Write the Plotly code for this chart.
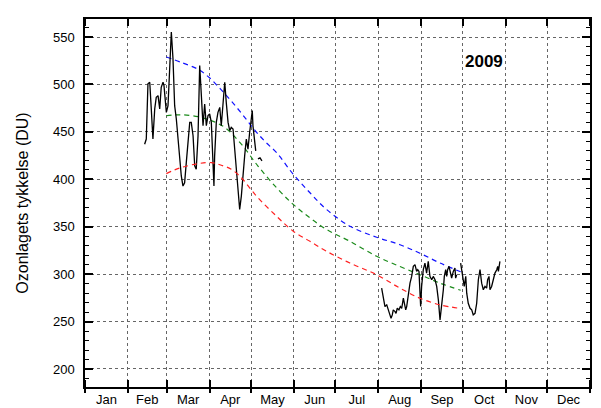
import plotly.graph_objects as go
import pandas as pd

# ---- data (day-of-year, value in DU) ----
seg1_days = [43.1, 44.3, 45.5, 46.8, 47.9, 49.1, 50.4, 51.5, 52.8, 54.0, 55.1, 56.4, 57.1, 58.0, 58.8,
             60.0, 61.2, 62.4, 63.6, 64.8, 66.0, 67.2, 68.4, 69.6, 70.8, 72.0, 73.2, 74.4, 75.7, 76.8,
             78.1, 79.3, 80.4, 81.7, 82.9, 84.1, 85.3, 86.5, 87.7, 88.9, 90.1, 91.3, 92.5, 93.2, 93.7,
             94.9, 96.1, 97.4, 98.5, 99.7, 101.0, 102.1, 103.4, 104.6, 105.7, 107.0, 108.2, 109.4, 110.6,
             111.8, 113.0, 114.2, 115.4, 116.6, 117.8, 119.0, 120.2, 120.9, 121.4, 122.7, 123.4]
seg1_vals = [437, 442.4, 500.6, 502.3, 474.2, 442.4, 474.2, 486.4, 488.2, 474.2, 497, 502.3, 498.8, 481.1, 470.6,
             477.6, 523.5, 555.3, 527.1, 477.6, 463.6, 442.4, 421.2, 403.5, 392.9, 396.4, 417.6, 438.8, 460, 460,
             445.9, 414.1, 410.6, 445.9, 520, 488.2, 456.5, 479.4, 456.5, 467.1, 468.9, 460, 410.6, 392.9, 424.7,
             460, 470.6, 475.8, 456.5, 477.6, 502.3, 481.1, 460, 451.2, 454.7, 453, 431.8, 410.6, 389.4,
             368.2, 382.3, 407, 424.7, 442.4, 431.8, 449.4, 461.8, 472.4, 456.5, 442.4, 430]
seg2_days = [125.0, 126.5, 127.9]
seg2_vals = [421.5, 422.6, 419.4]
seg3_days = [214.4, 215.6, 216.8, 218.1, 219.2, 220.4, 221.2, 222.1, 222.8, 224.1, 224.8, 225.7, 226.9, 227.9,
             228.9, 230.1, 230.8, 231.8, 232.5, 233.7, 234.9, 236.1, 237.3, 238.5, 239.7, 240.5, 241.4, 242.6,
             243.3, 244.5, 245.7, 246.9, 248.1, 249.3, 250.6, 251.7, 253.0, 254.2, 255.4, 256.6, 257.8, 259.0,
             259.7, 260.7, 261.4, 262.1, 263.1, 263.8, 265.0, 266.2, 267.4, 267.9, 268.6]
seg3_vals = [285.2, 276.4, 265.8, 267.6, 262.3, 258.7, 253.4, 257, 262.3, 260.5, 258.7, 264, 262.3, 265.8,
             264, 274.6, 269.3, 262.3, 265.8, 279.9, 290.5, 297.6, 308.2, 310, 302.9, 304.7, 302.9, 265.8,
             287, 304.7, 311.7, 301.1, 313.5, 297.6, 294.1, 297.6, 294.1, 287, 272.9, 251.7, 265.8, 283.5,
             297.6, 304.7, 297.6, 304.7, 308.2, 302.9, 295.8, 302.9, 306.4, 295.8, 299.4]
seg4_days = [271.5, 272.3, 273.4, 274.1, 275.2, 275.9, 277.0, 278.3, 279.5, 280.6, 281.9, 283.1, 284.3, 285.5,
             286.7, 287.9, 289.1, 290.3, 291.0, 292.0, 292.7, 293.9, 295.1, 296.3, 297.6, 298.3, 298.8, 299.9]
seg4_vals = [311.7, 304.7, 290.5, 287, 297.6, 279.9, 269.3, 264, 262.3, 257, 258.7, 269.3, 294.1, 304.7,
             290.5, 283.5, 287, 285.2, 294.1, 297.6, 283.5, 287, 294.1, 301.1, 304.7, 308.2, 302.9, 313.5]

max_days = [58.8, 70, 81.7, 90, 98, 106, 114, 122, 130, 138.5, 150.5, 162.6, 174.7,
            191.5, 210.8, 227.7, 242.1, 256.6, 271.5]
max_vals = [529, 523, 516, 507, 495, 482, 468, 453, 440, 428, 405.3, 385.8, 368,
            350.5, 338.9, 331, 322, 311.7, 302.5]
mean_days = [58.8, 68.7, 81.7, 91.3, 101, 113, 125, 138.5, 150.5, 162.6, 174.7,
             191.5, 210.8, 227.7, 242.1, 256.6, 271.5]
mean_vals = [467, 468, 466, 461.8, 454.7, 437, 414, 391, 373.5, 359.3, 347,
             334.6, 318.8, 308, 299.4, 290.5, 283]
min_days = [58.8, 68.7, 81.7, 91.3, 98.5, 105.7, 113, 119, 125, 138.5, 150.5, 162.6, 174.7,
            191.5, 210.8, 227.7, 242.1, 256.6, 270.5]
min_vals = [406, 412, 416.5, 417.6, 414.8, 410.6, 401.7, 391, 380.5, 361, 345.2, 334.6, 324,
            311.7, 299.4, 285.2, 274.6, 267.6, 264]

y_ticks = [200, 250, 300, 350, 400, 450, 500, 550]
year_label = "2009"
y_title = "Ozonlagets tykkelse (DU)"

base = pd.Timestamp("2009-01-01")


def to_dates(days):
    return [base + pd.Timedelta(days=d) for d in days]


# black daily series with gaps
bx, by = [], []
for d, v in [(seg1_days, seg1_vals), (seg2_days, seg2_vals), (seg3_days, seg3_vals), (seg4_days, seg4_vals)]:
    bx += to_dates(d) + [None]
    by += v + [None]

dash = "5px,4px"
fig = go.Figure()
fig.add_trace(go.Scatter(x=to_dates(max_days), y=max_vals, mode="lines", line_shape="spline",
                         line=dict(color="#1010ff", width=1.2, dash=dash, smoothing=1.0), hoverinfo="skip"))
fig.add_trace(go.Scatter(x=to_dates(mean_days), y=mean_vals, mode="lines", line_shape="spline",
                         line=dict(color="#1a8a1a", width=1.2, dash=dash, smoothing=1.0), hoverinfo="skip"))
fig.add_trace(go.Scatter(x=to_dates(min_days), y=min_vals, mode="lines", line_shape="spline",
                         xaxis="x2",
                         line=dict(color="#ff2020", width=1.2, dash=dash, smoothing=1.0), hoverinfo="skip"))
fig.add_trace(go.Scatter(x=bx, y=by, mode="lines", connectgaps=False,
                         line=dict(color="black", width=1.3)))

xrange = ["2009-01-01", "2010-01-01"]
font = "Liberation Sans, Arial, sans-serif"

fig.update_layout(
    width=601, height=408,
    margin=dict(l=85, r=11, t=19, b=21, autoexpand=False),
    paper_bgcolor="white", plot_bgcolor="white",
    showlegend=False,
    font=dict(family=font, size=13, color="black"),
    xaxis=dict(type="date", range=xrange, tick0="2009-01-01", dtick="M1", tickformat="%b",
               ticklabelmode="period", ticks="inside", ticklen=7, tickwidth=1.5, tickcolor="black",
               showgrid=True, griddash="dot", gridcolor="#666", gridwidth=1,
               showline=True, linecolor="black", linewidth=1.5, mirror="ticks", automargin=False,
               tickfont=dict(size=13), zeroline=False),
    xaxis2=dict(type="date", range=xrange, tick0="2009-01-01", dtick="M1", overlaying="x",
                anchor="y", side="bottom", ticks="outside", ticklen=5, tickwidth=1.5, tickcolor="black",
                showline=False, showgrid=False, showticklabels=False, automargin=False),
    yaxis=dict(range=[181, 569], tickvals=y_ticks, ticks="inside", ticklen=8, tickwidth=1.5,
               tickcolor="black", mirror="ticks", showline=True, linecolor="black", linewidth=1.5,
               showgrid=True, griddash="dot", gridcolor="#666", gridwidth=1, zeroline=False,
               minor=dict(ticks="inside", ticklen=4, dtick=10, tick0=0, tickcolor="black",
                          tickwidth=1, showgrid=False),
               ticklabelstandoff=6, tickfont=dict(size=13), automargin=False,
               title=dict(text=y_title, font=dict(size=16), standoff=20)),
    annotations=[dict(text="<b>" + year_label + "</b>", x=0.79, y=0.885, xref="paper", yref="paper",
                      xanchor="center", yanchor="middle",
                      showarrow=False, font=dict(size=17, family=font, color="black"))],
)

fig.write_html("out.html", config={"displayModeBar": False},
               post_script="document.body.style.margin='0';document.body.style.overflow='hidden';")
